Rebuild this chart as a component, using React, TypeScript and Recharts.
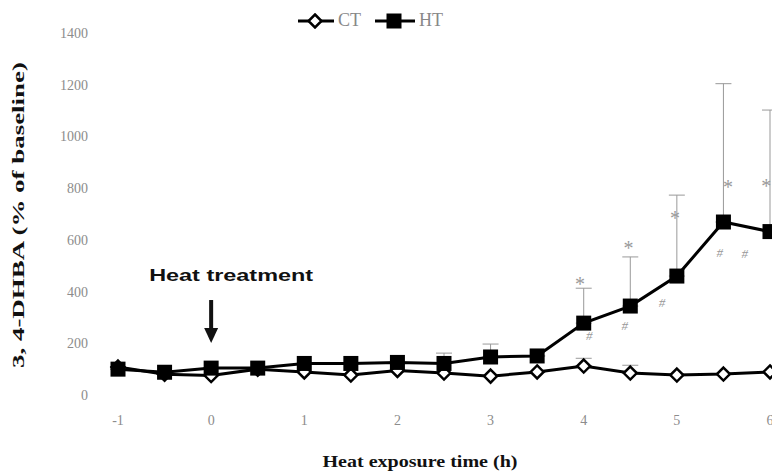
import React from "react";
import { ComposedChart, Line, Scatter, XAxis, YAxis, ErrorBar, Legend } from "recharts";

// sampling times (h) relative to heat treatment
const times = [-1, -0.5, 0, 0.5, 1, 1.5, 2, 2.5, 3, 3.5, 4, 4.5, 5, 5.5, 6];
const htValues = [100, 88, 104, 104, 122, 122, 126, 122, 147, 151, 278, 344, 460, 669, 632];
const ctValues = [108, 80, 75, 100, 89, 77, 95, 85, 73, 89, 112, 85, 77, 81, 89];
const htSem = [0, 0, 0, 0, 0, 0, 0, 40, 50, 0, 135, 190, 313, 535, 470];
const ctSem = [0, 0, 0, 0, 0, 0, 0, 0, 0, 0, 30, 30, 0, 0, 0];

const xTicks = [-1, 0, 1, 2, 3, 4, 5, 6];
const yTicks = [0, 200, 400, 600, 800, 1000, 1200, 1400];

// significance marks (* vs baseline, # vs CT)
const starT = [3.96, 4.48, 4.98, 5.55, 5.96];
const starV = [433, 572, 688, 808, 812];
const hashT = [4.06, 4.44, 4.84, 5.46, 5.73];
const hashV = [232, 271, 360, 553, 549];

const heatT = [0];
const heatV = [201];

const data = times.map((t, i) => ({
  t,
  ht: htValues[i],
  ct: ctValues[i],
  htErr: [0, htSem[i]],
  ctErr: [0, ctSem[i]],
}));
const stars = starT.map((t, i) => ({ t, v: starV[i] }));
const hashes = hashT.map((t, i) => ({ t, v: hashV[i] }));
const heat = heatT.map((t, i) => ({ t, v: heatV[i] }));

const serif = "'Liberation Serif', 'DejaVu Serif', serif";
const tickGray = "#8c8c8c";

const Diamond = (p: any) => {
  const { cx, cy } = p;
  if (cx == null || cy == null) return null;
  const r = 6.5;
  return (
    <path
      d={`M${cx},${cy - r}L${cx + r},${cy}L${cx},${cy + r}L${cx - r},${cy}Z`}
      fill="#fff"
      stroke="#000"
      strokeWidth={2.5}
    />
  );
};

const Square = (p: any) => {
  const { cx, cy } = p;
  if (cx == null || cy == null) return null;
  return <rect x={cx - 7.5} y={cy - 7.5} width={15} height={15} fill="#000" />;
};

const XTick = ({ x, y, payload }: any) => (
  <text x={x} y={y} dy={22} textAnchor="middle" fontFamily={serif} fontSize={14} fill={tickGray}>
    {payload.value}
  </text>
);

const YTick = ({ x, y, payload }: any) => (
  <text x={x - 22} y={y} dy={5} textAnchor="end" fontFamily={serif} fontSize={14} fill={tickGray}>
    {payload.value}
  </text>
);

const LegendBox = () => (
  <div style={{ display: "flex", alignItems: "center", fontFamily: serif, fontSize: 18, color: "#888" }}>
    <svg width={36} height={16}>
      <line x1={0} y1={8} x2={36} y2={8} stroke="#000" strokeWidth={3} />
      <Diamond cx={17} cy={8} />
    </svg>
    <span style={{ marginLeft: 4, marginRight: 14 }}>CT</span>
    <svg width={40} height={16}>
      <line x1={0} y1={8} x2={40} y2={8} stroke="#000" strokeWidth={3} />
      <Square cx={19} cy={8} />
    </svg>
    <span style={{ marginLeft: 4 }}>HT</span>
  </div>
);

const StarMark = (p: any) => (
  <text x={p.cx} y={p.cy} dy={8} textAnchor="middle" fontFamily={serif} fontSize={20} fill="#999">
    *
  </text>
);

const HashMark = (p: any) => (
  <text x={p.cx} y={p.cy} dy={5} textAnchor="middle" fontFamily={serif} fontStyle="italic" fontSize={13} fill="#999">
    #
  </text>
);

const HeatMark = (p: any) => {
  const { cx, cy } = p;
  return (
    <g>
      <text
        x={cx + 20}
        y={cy - 62}
        textAnchor="middle"
        fontFamily="'Liberation Sans', Arial, sans-serif"
        fontWeight="bold"
        fontSize={17}
        textLength={164}
        lengthAdjust="spacingAndGlyphs"
        fill="#111"
      >
        Heat treatment
      </text>
      <rect x={cx - 2} y={cy - 43} width={4} height={30} fill="#111" />
      <path d={`M${cx - 7},${cy - 15}L${cx + 7},${cy - 15}L${cx},${cy}Z`} fill="#111" />
    </g>
  );
};

export default function App() {
  return (
    <div style={{ position: "absolute", left: 0, top: 0, width: 772, height: 475, overflow: "hidden", background: "#fff" }}>
      <ComposedChart width={800} height={475} data={data} margin={{ top: 33, right: 30, bottom: 0, left: 0 }}>
        <XAxis
          dataKey="t"
          type="number"
          domain={[-1, 6]}
          ticks={xTicks}
          axisLine={false}
          tickLine={false}
          height={80}
          tick={<XTick />}
          label={{
            content: () => (
              <text
                x={420}
                y={467}
                textAnchor="middle"
                fontFamily={serif}
                fontWeight="bold"
                fontSize={17}
                textLength={195}
                lengthAdjust="spacingAndGlyphs"
                fill="#111"
              >
                Heat exposure time (h)
              </text>
            ),
          }}
        />
        <YAxis
          type="number"
          domain={[0, 1400]}
          ticks={yTicks}
          axisLine={false}
          tickLine={false}
          width={118}
          tick={<YTick />}
          label={{
            content: () => (
              <text
                transform="translate(24,215) rotate(-90)"
                textAnchor="middle"
                fontFamily={serif}
                fontWeight="bold"
                fontSize={17}
                textLength={306}
                lengthAdjust="spacingAndGlyphs"
                fill="#111"
              >
                3, 4-DHBA (% of baseline)
              </text>
            ),
          }}
        />
        <Legend
          verticalAlign="middle"
          align="center"
          content={<LegendBox />}
          wrapperStyle={{ top: 10, left: 298, width: 200, height: 24 }}
        />
        <Line dataKey="ct" name="CT" stroke="#000" strokeWidth={3} dot={<Diamond />} isAnimationActive={false}>
          <ErrorBar dataKey="ctErr" direction="y" width={8} stroke="#999" strokeWidth={1} />
        </Line>
        <Line dataKey="ht" name="HT" stroke="#000" strokeWidth={3} dot={<Square />} isAnimationActive={false}>
          <ErrorBar dataKey="htErr" direction="y" width={8} stroke="#999" strokeWidth={1} />
        </Line>
        <Scatter data={stars} dataKey="v" shape={<StarMark />} legendType="none" isAnimationActive={false} />
        <Scatter data={hashes} dataKey="v" shape={<HashMark />} legendType="none" isAnimationActive={false} />
        <Scatter data={heat} dataKey="v" shape={<HeatMark />} legendType="none" isAnimationActive={false} />
      </ComposedChart>
    </div>
  );
}
